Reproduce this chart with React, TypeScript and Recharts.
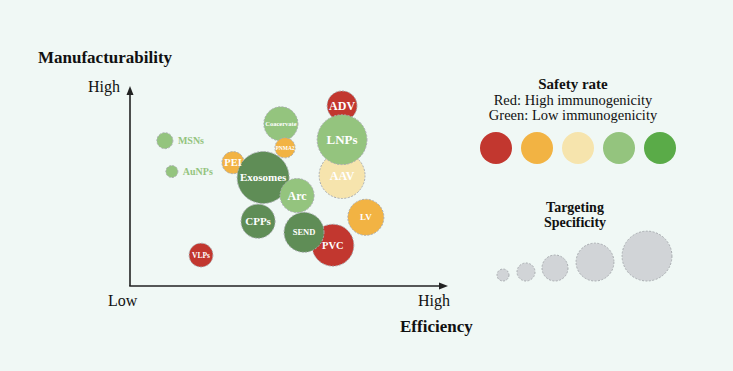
import { Scatter, ScatterChart, XAxis, YAxis, ZAxis } from "recharts";

// vectors plotted on efficiency (x) vs manufacturability (y), bubble = targeting specificity
const names = ["MSNs", "AuNPs", "VLPs", "PEI", "Exosomes", "Coacervate", "PNMA2", "Arc", "CPPs",
  "ADV", "AAV", "LNPs", "LV", "PVC", "SEND"];
const efficiency = [11, 13.2, 22.4, 32.5, 42, 47.6, 48.9, 52.7, 40.4, 66.9, 66.9, 66.9, 74.4, 64, 54.9];
const manufacturability = [73.4, 57.8, 15.6, 62.3, 54.8, 81.9, 69.8, 45.7, 32.7, 91, 55.8, 73.9, 34.7, 20.6, 27.1];
const specificity = [9.5, 5.3, 21, 18, 100, 43, 15, 43, 43, 33, 78, 92, 48, 65, 59];
const safety = ["lightgreen", "lightgreen", "red", "orange", "darkgreen", "lightgreen", "orange",
  "lightgreen", "darkgreen", "red", "yellow", "lightgreen", "orange", "red", "darkgreen"];

const safetyLegend = ["red", "orange", "yellow", "lightgreen", "green"];
const specificityLegend = [5.3, 12, 25, 53, 92];

const COLORS: Record<string, string> = {
  red: "#c2372f", orange: "#f2b343", yellow: "#f6e4ad", lightgreen: "#94c47e",
  green: "#5aab48", darkgreen: "#5f8d56",
};
const LABEL_SIZE: Record<string, number> = {
  MSNs: 10, AuNPs: 10, VLPs: 7.5, PEI: 10.5, Exosomes: 11, Coacervate: 6.5, PNMA2: 5.5, Arc: 12,
  CPPs: 11, ADV: 12, AAV: 12, LNPs: 13, LV: 9, PVC: 10.5, SEND: 8.5,
};
const SIDE_LABEL = new Set(["MSNs", "AuNPs"]);

const FONT = '"Liberation Serif", "Times New Roman", serif';
const DASH = { stroke: "#a9adb1", strokeWidth: 1, strokeDasharray: "2 1.5" };
const MAX_AREA = Math.PI * 26 * 26;
const INK = "#222";

const data = names.map((name, i) => ({
  name, x: efficiency[i], y: manufacturability[i], z: specificity[i], safety: safety[i],
}));

function Bubble(props: any) {
  const { cx, cy, width, payload } = props;
  return <circle cx={cx} cy={cy} r={width / 2} fill={COLORS[payload.safety]} {...DASH} />;
}

function BubbleLabel(props: any) {
  const { cx, cy, width, payload } = props;
  const side = SIDE_LABEL.has(payload.name);
  return (
    <text x={side ? cx + width / 2 + 5 : cx} y={cy} dy="0.35em" textAnchor={side ? "start" : "middle"}
          fontFamily={FONT} fontWeight="bold" fontSize={LABEL_SIZE[payload.name]}
          fill={side ? COLORS.lightgreen : "#ffffff"}>
      {payload.name}
    </text>
  );
}

const label = (bold: boolean, size: number) => ({
  position: "absolute" as const, fontFamily: FONT, fontSize: size, color: "#111",
  fontWeight: bold ? "bold" : "normal", whiteSpace: "nowrap" as const, lineHeight: 1,
});

export default function App() {
  return (
    <div style={{ position: "absolute", left: 0, top: 0, width: 733, height: 371,
                  background: "#f0f8f5", overflow: "hidden" }}>
      <svg width={733} height={371} style={{ position: "absolute", left: 0, top: 0 }}>
        <line x1={130} y1={286} x2={130} y2={92} stroke={INK} strokeWidth={1.6} />
        <line x1={129.2} y1={286} x2={442} y2={286} stroke={INK} strokeWidth={1.6} />
        <polygon points="130,86 126.5,95 133.5,95" fill={INK} />
        <polygon points="448,286 439,282.5 439,289.5" fill={INK} />
        {safetyLegend.map((s, i) => (
          <circle key={s} cx={496 + i * 41} cy={148} r={16} fill={COLORS[s]} />
        ))}
        {specificityLegend.map((z, i) => {
          const r = Math.sqrt((z / 100) * MAX_AREA / Math.PI);
          const xs = [503, 526, 555, 595, 647];
          return <circle key={i} cx={xs[i]} cy={281 - r} r={r} fill="#d1d4d7" {...DASH} />;
        })}
      </svg>
      <div style={{ position: "absolute", left: 0, top: 0 }}>
        <ScatterChart width={733} height={371} margin={{ top: 88, right: 286, bottom: 85, left: 130 }}>
          <XAxis type="number" dataKey="x" domain={[0, 100]} hide />
          <YAxis type="number" dataKey="y" domain={[0, 100]} hide />
          <ZAxis type="number" dataKey="z" domain={[0, 100]} range={[0, MAX_AREA]} />
          <Scatter data={data} shape={Bubble} isAnimationActive={false} />
          <Scatter data={data} shape={BubbleLabel} isAnimationActive={false} />
        </ScatterChart>
      </div>
      <div style={{ ...label(true, 17), left: 38, top: 49 }}>Manufacturability</div>
      <div style={{ ...label(false, 16), left: 88, top: 79 }}>High</div>
      <div style={{ ...label(false, 16), left: 108, top: 293 }}>Low</div>
      <div style={{ ...label(false, 16), left: 418, top: 293 }}>High</div>
      <div style={{ ...label(true, 17), left: 400, top: 318 }}>Efficiency</div>
      <div style={{ ...label(true, 15), left: 573, top: 77, lineHeight: "15px",
                    transform: "translateX(-50%)" }}>Safety rate</div>
      <div style={{ ...label(false, 14.5), left: 573, top: 93, lineHeight: "15px",
                    transform: "translateX(-50%)" }}>Red: High immunogenicity</div>
      <div style={{ ...label(false, 14.5), left: 573, top: 108, lineHeight: "15px",
                    transform: "translateX(-50%)" }}>Green: Low immunogenicity</div>
      <div style={{ ...label(true, 14), left: 575, top: 200, lineHeight: "15px",
                    transform: "translateX(-50%)", textAlign: "center" }}>
        Targeting<br />Specificity
      </div>
    </div>
  );
}
